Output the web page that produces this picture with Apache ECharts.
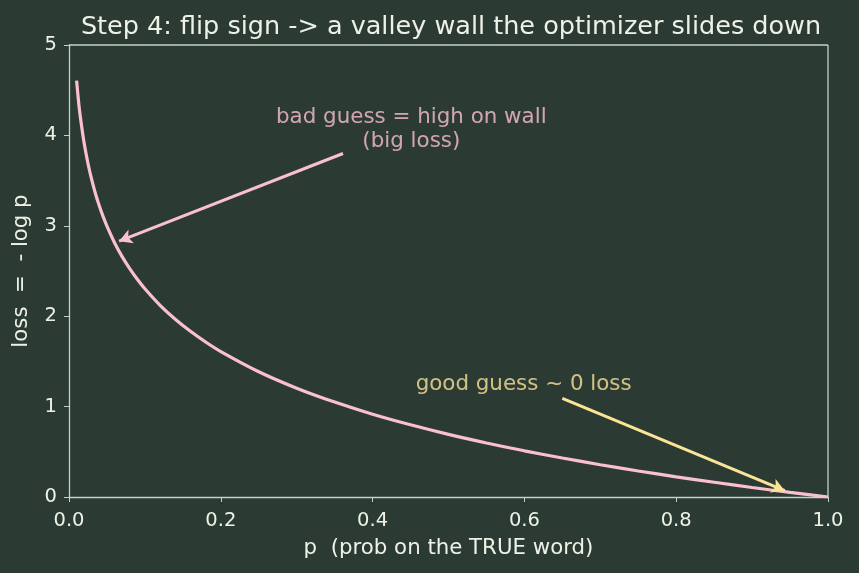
<!DOCTYPE html>
<html><head><meta charset="utf-8">
<script src="https://cdn.jsdelivr.net/npm/echarts@6/dist/echarts.min.js"></script>
<style>html,body{margin:0;padding:0;background:#2b3b34;}#c{width:859px;height:573px;}</style>
</head><body><div id="c"></div>
<script>
const pValues = [0.01,0.0125,0.015,0.02,0.025,0.03,0.035,0.04,0.045,0.05,0.06,0.07,0.08,0.09,0.10,0.12,0.14,0.16,0.18,0.20,0.25,0.30,0.35,0.40,0.45,0.50,0.55,0.60,0.65,0.70,0.75,0.80,0.85,0.90,0.95,1.0];
const lossValues = [4.605,4.382,4.200,3.912,3.689,3.507,3.352,3.219,3.101,2.996,2.813,2.659,2.526,2.408,2.303,2.120,1.966,1.833,1.715,1.609,1.386,1.204,1.050,0.916,0.799,0.693,0.598,0.511,0.431,0.357,0.288,0.223,0.163,0.105,0.051,0.0];
const xTicks = ['0.0','0.2','0.4','0.6','0.8','1.0'];
const badArrow = {from:[0.361,3.80], to:[0.066,2.83], text:'bad guess = high on wall\n(big loss)', at:[0.451,4.07]};
const goodArrow = {from:[0.65,1.09], to:[0.943,0.07], text:'good guess ~ 0 loss', at:[0.599,1.245]};

const fg = '#eef2e6';
const axisCol = '#c3d3c3';
const pink = '#fbc0cf';
const yellow = '#fce497';
const font = 'DejaVu Sans';

const chart = echarts.init(document.getElementById('c'));
chart.setOption({
  backgroundColor:'#2b3b34',
  animation:false,
  title:{text:'Step 4: flip sign -> a valley wall the optimizer slides down',left:446,textAlign:'center',top:9,textStyle:{color:fg,fontFamily:font,fontWeight:'normal',fontSize:25.5}},
  grid:{left:69,right:31,top:45,bottom:76},
  xAxis:{type:'value',min:0,max:1,interval:0.2,
    name:'p  (prob on the TRUE word)',nameLocation:'middle',nameGap:41,
    nameTextStyle:{color:fg,fontFamily:font,fontSize:21.3},
    axisLine:{show:true,lineStyle:{color:axisCol,width:1.3}},
    axisTick:{show:true,length:5,lineStyle:{color:axisCol}},
    splitLine:{show:false},
    axisLabel:{color:fg,fontFamily:font,fontSize:19.5,margin:14,formatter:(v)=>xTicks[Math.round(v/0.2)]}},
  yAxis:{type:'value',min:0,max:5,interval:1,
    name:'loss  =  - log p',nameLocation:'middle',nameGap:37,
    nameTextStyle:{color:fg,fontFamily:font,fontSize:21.3},
    axisLine:{show:true,lineStyle:{color:axisCol,width:1.3}},
    axisTick:{show:true,length:5,lineStyle:{color:axisCol}},
    splitLine:{show:false},
    axisLabel:{color:fg,fontFamily:font,fontSize:19.5,margin:12}},
  series:[
    {type:'line',data:pValues.map((p,i)=>[p,lossValues[i]]),showSymbol:false,smooth:0.3,
     lineStyle:{color:pink,width:3.2},z:3,
     markLine:{silent:true,animation:false,symbol:['none','arrow'],symbolSize:[11,13],label:{show:false},
       data:[
         [{coord:badArrow.from,lineStyle:{color:pink,width:3,type:'solid'}},{coord:badArrow.to}],
         [{coord:goodArrow.from,lineStyle:{color:yellow,width:3,type:'solid'}},{coord:goodArrow.to}]
       ]}},
    {type:'scatter',data:[badArrow.at],symbolSize:0,silent:true,
     label:{show:true,position:'inside',formatter:badArrow.text,color:pink,fontFamily:font,fontSize:21.4,align:'center',lineHeight:24}},
    {type:'scatter',data:[goodArrow.at],symbolSize:0,silent:true,
     label:{show:true,position:'inside',formatter:goodArrow.text,color:yellow,fontFamily:font,fontSize:21.4,align:'center'}}
  ]
});
chart.setOption({graphic:[
  {type:'line',shape:{x1:69,y1:45,x2:828,y2:45},style:{stroke:axisCol,lineWidth:1.3}},
  {type:'line',shape:{x1:828,y1:45,x2:828,y2:497},style:{stroke:axisCol,lineWidth:1.3}}
]});
</script></body></html>
